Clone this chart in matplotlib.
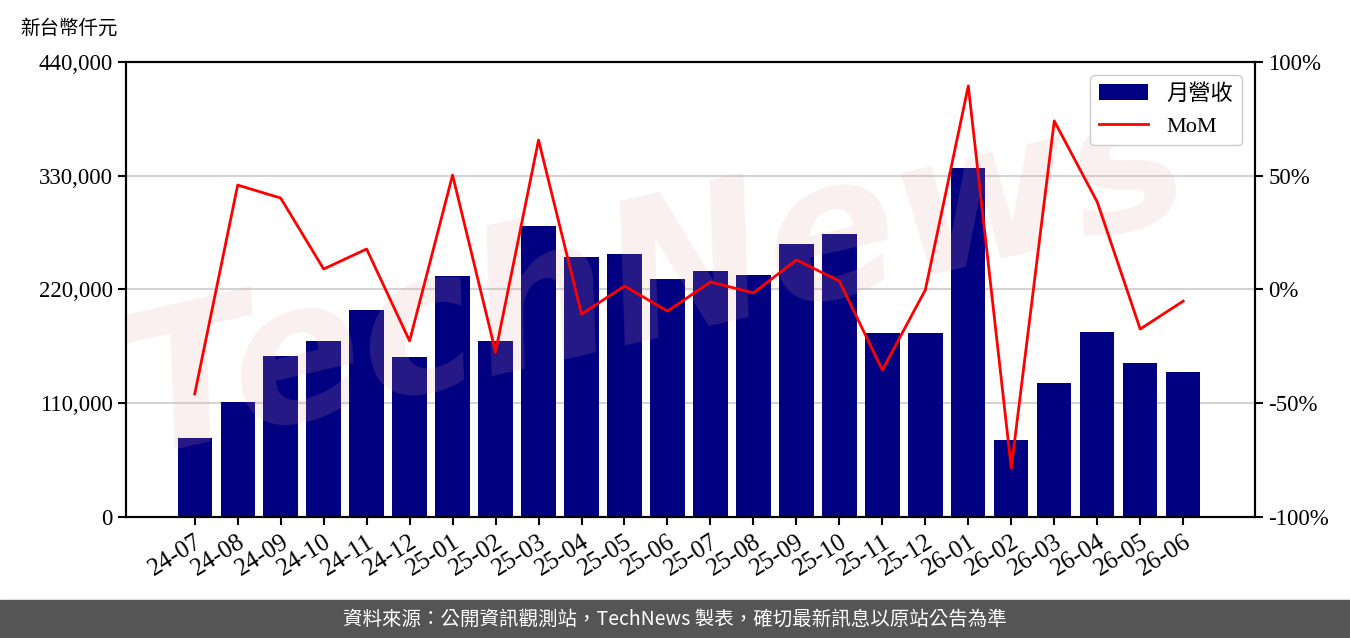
import matplotlib.pyplot as plt
from matplotlib.patches import Rectangle
from matplotlib.ticker import FuncFormatter

months = ['24-07', '24-08', '24-09', '24-10', '24-11', '24-12',
          '25-01', '25-02', '25-03', '25-04', '25-05', '25-06',
          '25-07', '25-08', '25-09', '25-10', '25-11', '25-12',
          '26-01', '26-02', '26-03', '26-04', '26-05', '26-06']
revenue = [76400, 111200, 155700, 170200, 200200, 154700,
           233100, 170200, 281400, 251400, 254300, 230200,
           237900, 234000, 264000, 273700, 177900, 177900,
           337500, 74500, 129600, 178900, 148900, 140200]
mom = [-45.9, 45.9, 40.2, 9.0, 17.8, -22.6,
       50.3, -27.5, 65.7, -10.8, 1.5, -9.5,
       3.3, -1.5, 13.0, 3.7, -35.4, -0.2,
       89.5, -78.5, 74.1, 38.5, -17.4, -5.1]

serif = ['Liberation Serif', 'Noto Sans CJK TC']
plt.rcParams['font.family'] = serif

fig = plt.figure(figsize=(13.5, 6.38), dpi=100)
ax = fig.add_axes([0.0933, 0.1897, 0.8363, 0.7131])
ax2 = ax.twinx()

x = list(range(len(months)))
bars = ax.bar(x, revenue, width=0.8, color='#000080', zorder=2, label='月營收')
line, = ax2.plot(x, mom, color='red', linewidth=2.0, label='MoM', zorder=3)

ax.set_xlim(-1.6, 24.67)
ax.set_ylim(0, 440000)
ax.set_yticks([0, 110000, 220000, 330000, 440000])
ax.yaxis.set_major_formatter(FuncFormatter(lambda v, p: f'{int(v):,}'))
ax.grid(axis='y', color='#d3d3d3', linewidth=1.5, zorder=0)
ax.set_axisbelow(True)

ax2.set_ylim(-100, 100)
ax2.set_yticks([-100, -50, 0, 50, 100])
ax2.yaxis.set_major_formatter(FuncFormatter(lambda v, p: f'{int(v)}%'))

ax.set_xticks(x)
ax.set_xticklabels(months, rotation=32, ha='right', rotation_mode='anchor')
for a in (ax, ax2):
    a.tick_params(labelsize=16.5, width=1.5, length=6)
    for s in a.spines.values():
        s.set_linewidth(1.5)
ax.tick_params(axis='x', labelsize=18, pad=4)

# watermark
ax2.text(0.47, 0.52, 'TechNews', transform=ax2.transAxes, fontsize=140,
         family='DejaVu Sans', fontweight='bold', style='italic',
         color='#e8a0a0', alpha=0.16, rotation=13, ha='center', va='center',
         zorder=1)

ax2.legend([bars, line], ['月營收', 'MoM'], loc='upper right', fontsize=16,
           framealpha=1, edgecolor='#cccccc', handlelength=2.2,
           borderaxespad=0.6)

fig.text(0.015, 0.955, '新台幣仟元', fontsize=14, family=serif, va='center')

fig.patches.append(Rectangle((0, 0), 1, 0.0596, transform=fig.transFigure,
                             color='#555555', zorder=0))
fig.text(0.5, 0.0298, '資料來源：公開資訊觀測站，TechNews 製表，確切最新訊息以原站公告為準',
         fontsize=14, family=['Noto Sans CJK TC', 'DejaVu Sans'], color='white',
         ha='center', va='center')

fig.savefig('out.png', dpi=100)
